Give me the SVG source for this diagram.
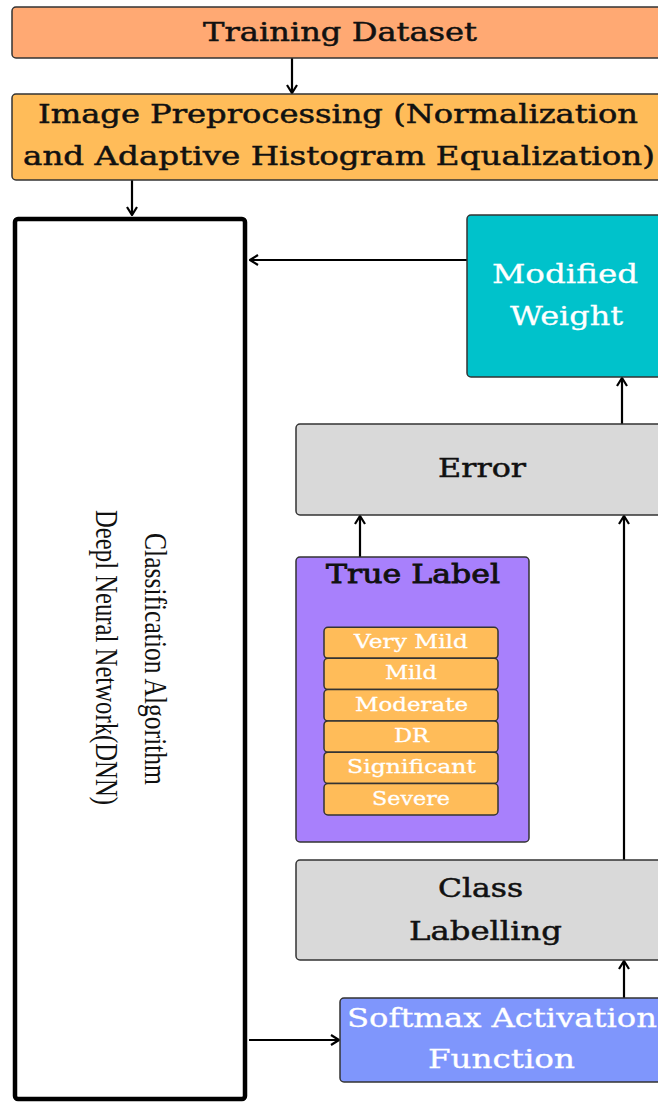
<svg xmlns="http://www.w3.org/2000/svg" width="658" height="1102" viewBox="0 0 658 1102">
<defs>
<style>
.box{stroke:#333;stroke-width:1.5}
.t{font-family:"DejaVu Serif","Liberation Serif",serif;font-size:26px;fill:#111;stroke:#111;stroke-width:0.5;text-anchor:middle}
.w{fill:#fff;stroke:#fff;stroke-width:0.3}
.r{font-size:18px}
.rot{font-family:"Liberation Serif","Times New Roman",serif;font-size:31px;fill:#111;text-anchor:middle}
.c{stroke:#000;stroke-width:2.2;fill:none}
</style>
<marker id="ah" viewBox="0 0 12 12" refX="11" refY="6" markerWidth="12" markerHeight="12" markerUnits="userSpaceOnUse" orient="auto">
<path d="M3,1 L11,6 L3,11" fill="none" stroke="#000" stroke-width="2.2"/>
</marker>
</defs>
<rect width="658" height="1102" fill="#fff"/>
<g id="connectors">
<line class="c" x1="292" y1="58" x2="292" y2="93" marker-end="url(#ah)"/>
<line class="c" x1="132" y1="180" x2="132" y2="215" marker-end="url(#ah)"/>
<line class="c" x1="467" y1="260" x2="250" y2="260" marker-end="url(#ah)"/>
<line class="c" x1="622" y1="424" x2="622" y2="378" marker-end="url(#ah)"/>
<line class="c" x1="360" y1="557" x2="360" y2="516" marker-end="url(#ah)"/>
<line class="c" x1="624" y1="860" x2="624" y2="516" marker-end="url(#ah)"/>
<line class="c" x1="624" y1="998" x2="624" y2="961" marker-end="url(#ah)"/>
<line class="c" x1="249" y1="1040" x2="339" y2="1040" marker-end="url(#ah)"/>
</g>
<g id="training">
<rect class="box" x="12" y="7" width="660" height="51" rx="4" fill="#FFA973"/>
<text class="t" x="340" y="41" textLength="274" lengthAdjust="spacingAndGlyphs">Training Dataset</text>
</g>
<g id="preprocessing">
<rect class="box" x="12" y="94" width="660" height="86" rx="4" fill="#FFBC59"/>
<text class="t" x="338" y="123" textLength="600" lengthAdjust="spacingAndGlyphs">Image Preprocessing (Normalization</text>
<text class="t" x="339" y="165" textLength="632" lengthAdjust="spacingAndGlyphs">and Adaptive Histogram Equalization)</text>
</g>
<g id="dnn">
<rect x="15" y="219" width="230" height="880" rx="3" fill="#fff" stroke="#000" stroke-width="4.5"/>
<text class="rot" transform="translate(145,659) rotate(90)" textLength="252" lengthAdjust="spacingAndGlyphs">Classification Algorithm</text>
<text class="rot" transform="translate(96,657.5) rotate(90)" textLength="295" lengthAdjust="spacingAndGlyphs">Deepl Neural Network(DNN)</text>
</g>
<g id="modified-weight">
<rect class="box" x="467" y="215" width="205" height="162" rx="4" fill="#00C2CB"/>
<text class="t w" x="565" y="283" textLength="146" lengthAdjust="spacingAndGlyphs">Modified</text>
<text class="t w" x="566.5" y="325" textLength="113" lengthAdjust="spacingAndGlyphs">Weight</text>
</g>
<g id="error">
<rect class="box" x="296" y="424" width="376" height="91" rx="4" fill="#D9D9D9"/>
<text class="t" x="482" y="477" textLength="88" lengthAdjust="spacingAndGlyphs">Error</text>
</g>
<g id="true-label">
<rect class="box" x="296" y="557" width="233" height="285" rx="4" fill="#A880FC"/>
<text class="t" x="413" y="583" textLength="174" lengthAdjust="spacingAndGlyphs" style="stroke-width:0.8">True Label</text>
<rect class="box" x="324" y="627.3" width="174" height="31" rx="4" fill="#FFBC59" stroke-width="1.2"/>
<rect class="box" x="324" y="658.3" width="174" height="31.3" rx="4" fill="#FFBC59" stroke-width="1.2"/>
<rect class="box" x="324" y="689.6" width="174" height="31.3" rx="4" fill="#FFBC59" stroke-width="1.2"/>
<rect class="box" x="324" y="720.9" width="174" height="31.3" rx="4" fill="#FFBC59" stroke-width="1.2"/>
<rect class="box" x="324" y="752.2" width="174" height="31.3" rx="4" fill="#FFBC59" stroke-width="1.2"/>
<rect class="box" x="324" y="783.5" width="174" height="31.5" rx="4" fill="#FFBC59" stroke-width="1.2"/>
<text class="t w r" x="411" y="648" textLength="114" lengthAdjust="spacingAndGlyphs">Very Mild</text>
<text class="t w r" x="411" y="679" textLength="52" lengthAdjust="spacingAndGlyphs">Mild</text>
<text class="t w r" x="411.5" y="711" textLength="113" lengthAdjust="spacingAndGlyphs">Moderate</text>
<text class="t w r" x="411.5" y="742" textLength="35" lengthAdjust="spacingAndGlyphs">DR</text>
<text class="t w r" x="411.5" y="773" textLength="129" lengthAdjust="spacingAndGlyphs">Significant</text>
<text class="t w r" x="411" y="805" textLength="78" lengthAdjust="spacingAndGlyphs">Severe</text>
</g>
<g id="class-labelling">
<rect class="box" x="296" y="860" width="376" height="100" rx="4" fill="#D9D9D9"/>
<text class="t" x="480.5" y="897" textLength="85" lengthAdjust="spacingAndGlyphs">Class</text>
<text class="t" x="485.5" y="940" textLength="153" lengthAdjust="spacingAndGlyphs">Labelling</text>
</g>
<g id="softmax">
<rect class="box" x="340" y="998" width="330" height="84" rx="4" fill="#7F96FC"/>
<text class="t w" x="502" y="1027" textLength="310" lengthAdjust="spacingAndGlyphs">Softmax Activation</text>
<text class="t w" x="501.5" y="1068" textLength="147" lengthAdjust="spacingAndGlyphs">Function</text>
</g>
</svg>
